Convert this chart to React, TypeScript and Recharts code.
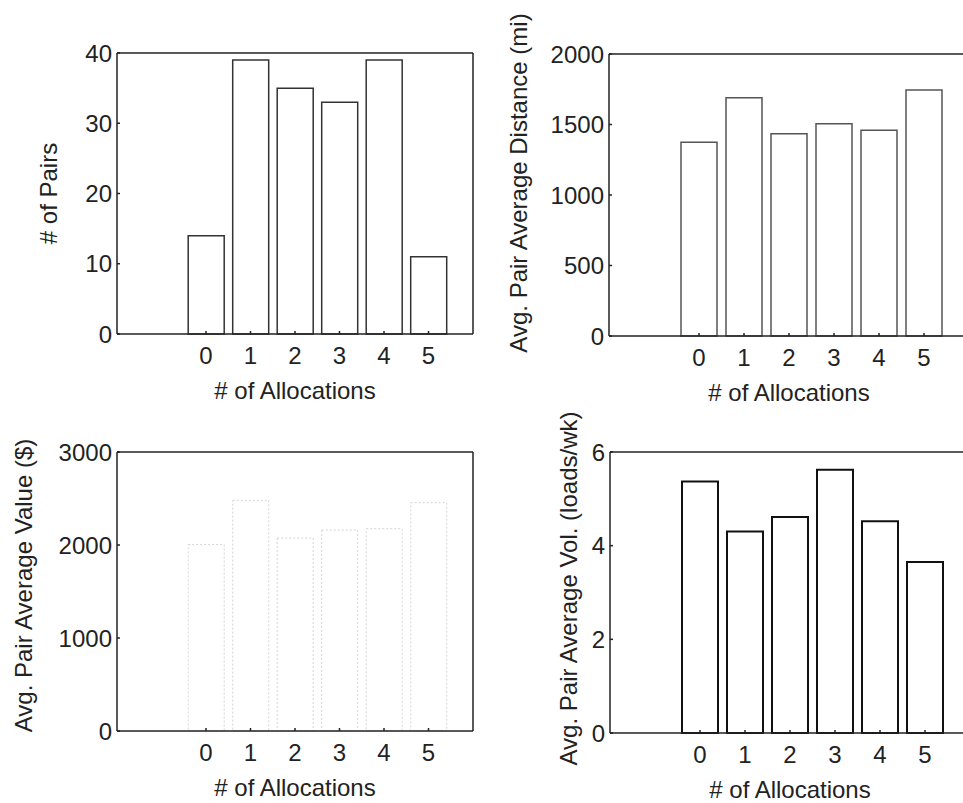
import React from 'react';
import { BarChart, Bar, XAxis, YAxis, Label } from 'recharts';

const allocations = [0, 1, 2, 3, 4, 5];
const pairCounts = [14, 39, 35, 33, 39, 11];
const avgDistance = [1375, 1690, 1435, 1505, 1460, 1745];
const avgValue = [2005, 2480, 2075, 2160, 2175, 2455];
const avgVolume = [5.37, 4.3, 4.61, 5.62, 4.52, 3.65];

const pairTicks = [0, 10, 20, 30, 40];
const distanceTicks = [0, 500, 1000, 1500, 2000];
const valueTicks = [0, 1000, 2000, 3000];
const volumeTicks = [0, 2, 4, 6];

const FONT = '"Liberation Sans", Arial, sans-serif';
const INK = '#222';
const FS = 24;
const AXIS_W = 120;
const TOP = 60;
const BOTTOM = 80;

interface PanelProps {
  plotLeft: number;
  plotTop: number;
  plotW: number;
  plotH: number;
  values: number[];
  yTicks: number[];
  yLabel: string;
  labelDx: number;
  labelDy: number;
  barStroke: string;
  barWidth: number;
  barDash?: string;
}

const Panel: React.FC<PanelProps> = (p) => {
  const data = allocations.map((a, i) => ({ x: a, v: p.values[i] }));
  const yMax = p.yTicks[p.yTicks.length - 1];
  const tickStyle = { fontSize: FS, fill: INK, fontFamily: FONT };

  return (
    <div style={{ position: 'absolute', left: p.plotLeft - AXIS_W, top: p.plotTop - TOP }}>
      <BarChart
        width={AXIS_W + p.plotW + 2}
        height={TOP + p.plotH + BOTTOM}
        data={data}
        margin={{ top: TOP - 1, right: 0, left: 0, bottom: 0 }}
        barCategoryGap="10%"
      >
        <XAxis
          dataKey="x"
          type="number"
          domain={[-2, 6]}
          ticks={allocations}
          allowDataOverflow
          height={BOTTOM}
          tickSize={-3}
          tickMargin={16}
          tick={tickStyle}
          axisLine={{ stroke: INK, strokeWidth: 1.5 }}
          tickLine={{ stroke: INK, strokeWidth: 1.5 }}
        >
          <Label
            content={({ viewBox }: any) => (
              <text
                x={viewBox.x + viewBox.width / 2}
                y={viewBox.y + 56}
                textAnchor="middle"
                dominantBaseline="central"
                fontSize={FS}
                fontFamily={FONT}
                fill={INK}
              >
                # of Allocations
              </text>
            )}
          />
        </XAxis>
        <XAxis
          xAxisId="top"
          orientation="top"
          type="number"
          domain={[-2, 6]}
          ticks={allocations}
          height={1}
          tick={false}
          tickSize={-3}
          axisLine={{ stroke: INK, strokeWidth: 1.5 }}
          tickLine={{ stroke: INK, strokeWidth: 1.5 }}
        />
        <YAxis
          type="number"
          domain={[0, yMax]}
          ticks={p.yTicks}
          width={AXIS_W}
          tickSize={-3}
          tickMargin={8}
          tick={tickStyle}
          axisLine={{ stroke: INK, strokeWidth: 1.5 }}
          tickLine={{ stroke: INK, strokeWidth: 1.5 }}
        >
          <Label
            content={({ viewBox }: any) => {
              const cx = viewBox.x + viewBox.width + p.labelDx;
              const cy = viewBox.y + viewBox.height / 2 + p.labelDy;
              return (
                <text
                  x={cx}
                  y={cy}
                  transform={`rotate(-90 ${cx} ${cy})`}
                  textAnchor="middle"
                  dominantBaseline="central"
                  fontSize={FS}
                  fontFamily={FONT}
                  fill={INK}
                >
                  {p.yLabel}
                </text>
              );
            }}
          />
        </YAxis>
        <YAxis
          yAxisId="right"
          orientation="right"
          type="number"
          domain={[0, yMax]}
          ticks={p.yTicks}
          width={2}
          tick={false}
          tickSize={-3}
          axisLine={{ stroke: INK, strokeWidth: 1.5 }}
          tickLine={{ stroke: INK, strokeWidth: 1.5 }}
        />
        <Bar
          dataKey="v"
          fill="#ffffff"
          stroke={p.barStroke}
          strokeWidth={p.barWidth}
          strokeDasharray={p.barDash}
          isAnimationActive={false}
        />
      </BarChart>
    </div>
  );
};

export default function App() {
  return (
    <div
      style={{
        position: 'absolute',
        left: 0,
        top: 0,
        width: 963,
        height: 803,
        overflow: 'hidden',
        background: '#ffffff',
        fontFamily: FONT,
      }}
    >
      <Panel
        plotLeft={117} plotTop={53} plotW={356} plotH={281}
        values={pairCounts} yTicks={pairTicks} yLabel="# of Pairs"
        labelDx={-69} labelDy={0} barStroke="#333" barWidth={1.5}
      />
      <Panel
        plotLeft={609} plotTop={54} plotW={360} plotH={282}
        values={avgDistance} yTicks={distanceTicks} yLabel="Avg. Pair Average Distance (mi)"
        labelDx={-91} labelDy={-12} barStroke="#555" barWidth={1.5}
      />
      <Panel
        plotLeft={117} plotTop={452} plotW={356} plotH={279}
        values={avgValue} yTicks={valueTicks} yLabel="Avg. Pair Average Value ($)"
        labelDx={-94} labelDy={-6} barStroke="#d4d4d4" barWidth={1} barDash="2 2"
      />
      <Panel
        plotLeft={610} plotTop={452} plotW={360} plotH={281}
        values={avgVolume} yTicks={volumeTicks} yLabel="Avg. Pair Average Vol. (loads/wk)"
        labelDx={-42} labelDy={-4} barStroke="#111" barWidth={2}
      />
    </div>
  );
}
